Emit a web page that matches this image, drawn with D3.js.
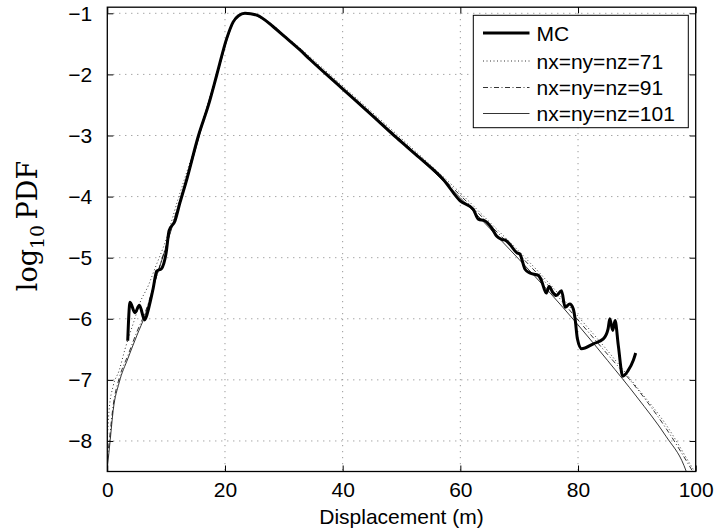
<!DOCTYPE html>
<html>
<head>
<meta charset="utf-8">
<script src="https://cdn.jsdelivr.net/npm/d3@7"></script>
<style>
  html, body { margin: 0; padding: 0; background: #fff; }
  svg { display: block; }
  text { font-family: "Liberation Sans", Arial, Helvetica, sans-serif; fill: #000; }
</style>
</head>
<body>
<svg id="chart" width="717" height="531"></svg>
<script>
// Monte Carlo reference PDF (log10), displacement in metres
const mcX = [3.47, 3.86, 4.7, 5.45, 6.35, 7.1, 7.8, 8.4, 9.2, 10.0, 10.5, 11.5, 12.35, 13.5, 15.5, 17.2, 18.6, 20.3, 21.4, 22.3, 23.4, 25.4, 28.2, 30, 32.75, 34.5, 39.8, 45, 49.2, 53, 57.1, 59.97, 62.2, 63.05, 64.2, 65.3, 66.2, 67.0, 67.6, 68.4, 69.6, 70.1, 71.0, 71.8, 73.25, 73.8, 74.6, 75.1, 75.7, 76.3, 77.2, 77.8, 78.6, 79.2, 79.5, 79.9, 80.6, 82.6, 84.3, 85.1, 85.4, 85.9, 86.3, 86.85, 87.6, 88.5, 89.4, 89.8];
const mcY = [-6.36, -5.73, -5.9, -5.78, -6.02, -5.8, -5.5, -5.22, -5.18, -4.92, -4.56, -4.4, -4.1, -3.72, -3.0, -2.5, -2.01, -1.41, -1.14, -1.04, -1.0, -1.03, -1.22, -1.37, -1.6, -1.76, -2.22, -2.67, -3.04, -3.36, -3.72, -4.07, -4.21, -4.37, -4.4, -4.51, -4.65, -4.7, -4.71, -4.78, -4.92, -4.94, -5.19, -5.25, -5.29, -5.38, -5.58, -5.47, -5.57, -5.62, -5.54, -5.81, -5.76, -5.84, -6.0, -6.33, -6.49, -6.41, -6.33, -6.17, -6.0, -6.19, -6.03, -6.44, -6.94, -6.85, -6.68, -6.56];

// Grid solution nx=ny=nz=71
const g71X = [0, 0.3, 1, 2, 3, 4.5, 5.5, 7, 8, 10, 12, 14, 16, 18, 19.5, 20.5, 21.5, 22.5, 23.5, 24.5, 26, 28, 30, 32.5, 35, 40, 45, 50, 55, 60, 65, 70, 75, 80, 85, 90, 95, 99.3, 100];
const g71Y = [-8.0, -7.5, -7.1, -6.85, -6.5, -6.05, -5.75, -5.45, -5.2, -4.7, -4.05, -3.45, -2.82, -2.18, -1.68, -1.35, -1.12, -1.02, -0.99, -1.0, -1.06, -1.18, -1.35, -1.55, -1.76, -2.19, -2.62, -3.05, -3.49, -3.94, -4.42, -4.9, -5.41, -5.96, -6.52, -7.12, -7.74, -8.42, -8.53];

// Grid solution nx=ny=nz=91
const g91X = [0, 0.5, 1, 2, 3.5, 5, 6.5, 8, 10, 12, 14, 16, 18, 19.5, 20.5, 21.5, 22.5, 23.5, 24.5, 26, 28, 30, 32.5, 35, 40, 45, 50, 55, 60, 65, 70, 75, 80, 85, 90, 95, 99.5];
const g91Y = [-8.3, -7.85, -7.42, -6.98, -6.6, -6.22, -5.88, -5.42, -4.8, -4.16, -3.54, -2.87, -2.21, -1.71, -1.37, -1.13, -1.03, -1.0, -1.01, -1.07, -1.19, -1.36, -1.57, -1.78, -2.22, -2.65, -3.08, -3.52, -3.98, -4.46, -4.95, -5.46, -6.02, -6.58, -7.14, -7.8, -8.5];

// Grid solution nx=ny=nz=101
const g101X = [0, 0.5, 1, 2, 3.5, 5, 6.5, 8, 10, 12, 14, 16, 18, 19.5, 20.5, 21.5, 22.5, 23.5, 24.5, 26, 28, 30, 32.5, 35, 40, 45, 50, 55, 60, 65, 70, 75, 80, 85, 90, 95, 98, 98.4];
const g101Y = [-8.45, -7.98, -7.5, -7.05, -6.65, -6.28, -5.92, -5.42, -4.82, -4.18, -3.56, -2.88, -2.22, -1.72, -1.38, -1.14, -1.03, -1.0, -1.01, -1.07, -1.2, -1.37, -1.58, -1.8, -2.24, -2.67, -3.1, -3.55, -4.02, -4.52, -5.03, -5.55, -6.1, -6.68, -7.28, -7.93, -8.4, -8.5];

const xTicks = [0, 20, 40, 60, 80, 100];
const yTicks = [-1, -2, -3, -4, -5, -6, -7, -8];
const legendLabels = ["MC", "nx=ny=nz=71", "nx=ny=nz=91", "nx=ny=nz=101"];

const svg = d3.select("#chart");
const L = 107.3, R = 695.7, T = 7.2, B = 471.5;

const x = d3.scaleLinear().domain([0, 100]).range([L, R]);
const y = d3.scaleLinear().domain([-8.5, -0.9]).range([B, T]);

const fmt = d => (d < 0 ? "\u2212" + Math.abs(d) : String(d));

// clip region for the curves
svg.append("defs").append("clipPath").attr("id", "plotClip")
  .append("rect").attr("x", L).attr("y", T).attr("width", R - L).attr("height", B - T);

// dotted grid
const grid = svg.append("g").attr("stroke", "#808080").attr("stroke-width", 1)
  .attr("stroke-dasharray", "1,5").attr("fill", "none");
grid.selectAll("line.gx").data(xTicks.filter(d => d > 0 && d < 100)).join("line")
  .attr("x1", d => x(d)).attr("x2", d => x(d)).attr("y1", T).attr("y2", B);
grid.selectAll("line.gy").data(yTicks).join("line")
  .attr("y1", d => y(d)).attr("y2", d => y(d)).attr("x1", L).attr("x2", R);

// curves
const mk = (xs, ys) => xs.map((v, i) => [v, ys[i]]);
const line = d3.line().x(d => x(d[0])).y(d => y(d[1])).curve(d3.curveMonotoneX);
const curves = svg.append("g").attr("clip-path", "url(#plotClip)").attr("fill", "none");

curves.append("path").attr("d", line(mk(g101X, g101Y)))
  .attr("stroke", "#000").attr("stroke-width", 0.8);
curves.append("path").attr("d", line(mk(g91X, g91Y)))
  .attr("stroke", "#000").attr("stroke-width", 0.8).attr("stroke-dasharray", "5,2.5,1,2.5");
curves.append("path").attr("d", line(mk(g71X, g71Y)))
  .attr("stroke", "#000").attr("stroke-width", 0.8).attr("stroke-dasharray", "1,2.5");
curves.append("path").attr("d", line(mk(mcX, mcY)))
  .attr("stroke", "#000").attr("stroke-width", 3).attr("stroke-linejoin", "round");

// axes: inward ticks on all four sides
const tl = 6;
const ax = svg.append("g");
ax.append("g").attr("transform", `translate(0,${B})`)
  .call(d3.axisBottom(x).tickValues(xTicks).tickSize(-tl).tickPadding(11).tickFormat(fmt));
ax.append("g").attr("transform", `translate(0,${T})`)
  .call(d3.axisTop(x).tickValues(xTicks).tickSize(-tl).tickFormat(""));
ax.append("g").attr("transform", `translate(${L},0)`)
  .call(d3.axisLeft(y).tickValues(yTicks).tickSize(-tl).tickPadding(15).tickFormat(fmt));
ax.append("g").attr("transform", `translate(${R},0)`)
  .call(d3.axisRight(y).tickValues(yTicks).tickSize(-tl).tickFormat(""));
ax.selectAll(".domain").remove();
ax.selectAll(".tick line").attr("stroke", "#000").attr("stroke-width", 1);
ax.selectAll(".tick text").attr("font-size", 21)
  .attr("font-family", "'Liberation Sans', Arial, sans-serif").attr("fill", "#000");
svg.append("rect").attr("x", L).attr("y", T).attr("width", R - L).attr("height", B - T)
  .attr("fill", "none").attr("stroke", "#000").attr("stroke-width", 1.3);

// axis titles
svg.append("text").attr("x", (L + R) / 2).attr("y", 524).attr("text-anchor", "middle")
  .attr("font-size", 21).text("Displacement (m)");

const yl = svg.append("text").attr("transform", "translate(37,226) rotate(-90)")
  .attr("text-anchor", "middle")
  .style("font-family", "'DejaVu Serif', 'Liberation Serif', serif").attr("font-size", 27);
yl.append("tspan").text("log");
yl.append("tspan").attr("font-size", 19).attr("dy", 7).text("10");
yl.append("tspan").attr("dy", -7).text("\u2009PDF");

// legend
const lg = svg.append("g");
lg.append("rect").attr("x", 473.3).attr("y", 15.3).attr("width", 215).attr("height", 112.4)
  .attr("fill", "#fff").attr("stroke", "#000").attr("stroke-width", 1);
const rowY = [33, 61, 87.5, 113.5];
const styles = [
  { w: 3, dash: null },
  { w: 0.8, dash: "1,2.5" },
  { w: 0.8, dash: "5,2.5,1,2.5" },
  { w: 0.8, dash: null }
];
legendLabels.forEach((lab, i) => {
  const ln = lg.append("line").attr("x1", 483).attr("x2", 529.5)
    .attr("y1", rowY[i]).attr("y2", rowY[i])
    .attr("stroke", "#000").attr("stroke-width", styles[i].w);
  if (styles[i].dash) ln.attr("stroke-dasharray", styles[i].dash);
  lg.append("text").attr("x", 536.5).attr("y", rowY[i] + 7.5).attr("font-size", 21).text(lab);
});
</script>
</body>
</html>
